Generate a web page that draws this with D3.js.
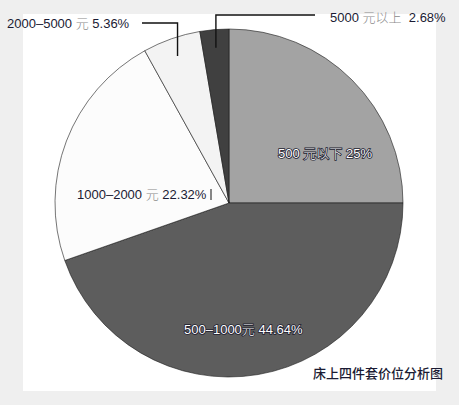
<!DOCTYPE html>
<html>
<head>
<meta charset="utf-8">
<script src="https://cdn.jsdelivr.net/npm/d3@7"></script>
<style>
  html, body { margin: 0; padding: 0; background: #efefef; }
  svg { display: block; }
</style>
</head>
<body>
<div id="chart"></div>
<script>
// Slice data (clockwise from 12 o'clock)
const categories = ["500 元以下", "500–1000元", "1000–2000 元", "2000–5000 元", "5000 元以上 "];
const shares = [25, 44.64, 22.32, 5.36, 2.68];
const shareLabels = ["25%", "44.64%", "22.32%", "5.36%", "2.68%"];
const title = "床上四件套价位分析图";

const colors = ["#a3a3a3", "#5d5d5d", "#fcfcfc", "#f3f3f3", "#404040"];

const width = 459, height = 405;
const cx = 229, cy = 203, radius = 174;

// label placement, offsets from pie centre (text start, baseline)
const labelLayout = [
    {dx: 49, dy: -45, light: true},
    {dx: -45, dy: 131, light: true},
    {dx: -152, dy: -4, light: false},
    {dx: -222, dy: -175, light: false, leader: {y: -180, x: -87}},
    {dx: 101, dy: -181, light: false, leader: {y: -188, x: 86}}
];

const svg = d3.select("#chart")
    .append("svg")
    .attr("width", width)
    .attr("height", height);

// white panel
svg.append("rect")
    .attr("x", 23)
    .attr("y", 14)
    .attr("width", 413)
    .attr("height", 377)
    .attr("fill", "#ffffff");

const g = svg.append("g")
    .attr("transform", `translate(${cx},${cy})`);

const data = categories.map((c, i) => ({name: c, value: shares[i], pct: shareLabels[i]}));

const pie = d3.pie()
    .sort(null)
    .value(d => d.value);

const arc = d3.arc()
    .innerRadius(0)
    .outerRadius(radius);

const arcs = pie(data);

g.selectAll("path.slice")
    .data(arcs)
    .enter()
    .append("path")
    .attr("class", "slice")
    .attr("d", arc)
    .attr("fill", (d, i) => colors[i])
    .attr("stroke", "#1a1a1a")
    .attr("stroke-width", 0.6)
    .attr("stroke-linejoin", "round");

// leader lines for the two small slices
const innerArc = d3.arc().innerRadius(radius * 0.895).outerRadius(radius * 0.895);
arcs.forEach((d, i) => {
    const lay = labelLayout[i];
    if (!lay.leader) return;
    const p = innerArc.centroid(d);
    g.append("polyline")
        .attr("points", [[p[0], p[1]], [p[0], lay.leader.y], [lay.leader.x, lay.leader.y]].map(q => q.join(",")).join(" "))
        .attr("fill", "none")
        .attr("stroke", "#111")
        .attr("stroke-width", 1.4);
});

// small tick after the 22.32% label
g.append("line")
    .attr("x1", -18).attr("x2", -18)
    .attr("y1", -14).attr("y2", -3)
    .attr("stroke", "#111")
    .attr("stroke-width", 1);

// slice labels
const labels = g.selectAll("text.label")
    .data(arcs)
    .enter()
    .append("text")
    .attr("class", "label")
    .attr("x", (d, i) => labelLayout[i].dx)
    .attr("y", (d, i) => labelLayout[i].dy)
    .style("font-family", "'Liberation Sans', Arial, 'Noto Sans CJK SC', sans-serif")
    .style("font-size", "13px")
    .each(function(d, i) {
        const t = d3.select(this);
        const lay = labelLayout[i];
        // split the category so the 元 glyphs can be drawn lighter
        const parts = d.data.name.split(/([\u4e00-\u9fff]+)/).filter(s => s.length);
        parts.forEach(s => {
            const cjk = /[\u4e00-\u9fff]/.test(s);
            const span = t.append("tspan").text(s)
                .style("white-space", "pre");
            if (cjk) {
                span.style("font-family", "'Noto Sans CJK SC', sans-serif")
                    .style("font-weight", "300");
            }
            if (lay.light) {
                span.attr("fill", "#ffffff")
                    .attr("stroke", "#1d1d30")
                    .attr("stroke-width", 1.6)
                    .attr("paint-order", "stroke");
            } else {
                span.attr("fill", cjk ? "#8a8a8a" : "#1b1b33");
            }
        });
        const pct = t.append("tspan").text(" " + d.data.pct).style("white-space", "pre");
        if (lay.light) {
            pct.attr("fill", "#ffffff")
                .attr("stroke", "#1d1d30")
                .attr("stroke-width", 1.6)
                .attr("paint-order", "stroke");
        } else {
            pct.attr("fill", "#1b1b33");
        }
    });

// chart title
svg.append("text")
    .attr("x", 443)
    .attr("y", 378)
    .attr("text-anchor", "end")
    .style("font-family", "'Noto Sans CJK SC', sans-serif")
    .style("font-size", "13px")
    .style("font-weight", "500")
    .attr("fill", "#1b1b33")
    .text(title);
</script>
</body>
</html>
